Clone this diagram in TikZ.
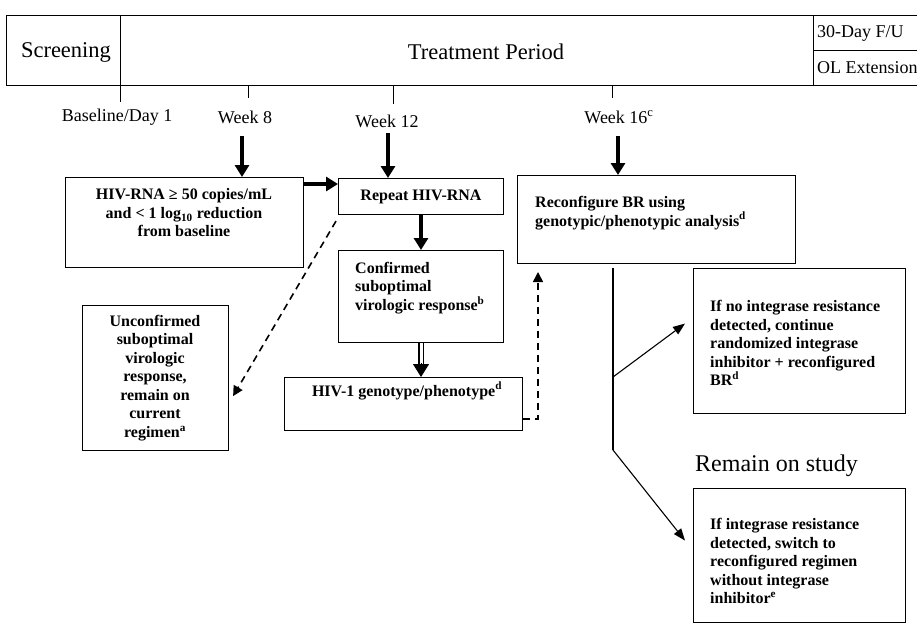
\documentclass[tikz,border=0pt]{standalone}
\usepackage{fontspec}
\setmainfont{Liberation Serif}
\usetikzlibrary{arrows.meta}
\begin{document}
\begin{tikzpicture}[x=1pt,y=-1pt,
  cell/.style={draw, line width=1.1pt, inner sep=0pt, anchor=north west},
  hdr/.style={font=\fontsize{22.5}{26}\selectfont, inner sep=0pt},
  hdrs/.style={font=\fontsize{18}{22}\selectfont, inner sep=0pt, anchor=west},
  wk/.style={font=\fontsize{18}{21}\selectfont, inner sep=0pt},
  btxt/.style={font=\fontsize{16}{18.5}\selectfont\bfseries, inner sep=0pt},
  tick/.style={line width=1pt},
  fat/.style={line width=3.5pt, -{Triangle[width=14pt,length=12pt]}},
  dblshaft/.style={double, double distance=3pt, line width=1.1pt, shorten >=11pt},
  dblhead/.style={line width=1pt, -{Triangle[width=16pt,length=13pt]}},
  dsh/.style={line width=1.6pt, dash pattern=on 7pt off 5pt, -{Triangle[width=10pt,length=10pt]}},
  thinarr/.style={line width=1.1pt, -{Triangle[width=9pt,length=12pt]}},
  plainline/.style={line width=1.1pt}
]
\useasboundingbox (0,0) rectangle (917,625);
\clip (0,0) rectangle (917,625);

% header cells
\node[cell, minimum width=114pt, minimum height=70pt] (scr) at (6,15) {};
\node[cell, minimum width=693pt, minimum height=70pt] (trt) at (120,15) {};
\node[cell, minimum width=110pt, minimum height=35pt] (fu) at (813,15) {};
\node[cell, minimum width=110pt, minimum height=35pt] (ol) at (813,50) {};
\node[hdr] (scrt) at (66,52) {Screening};
\node[hdr] (trtt) at (486,52) {Treatment Period};
\node[hdrs] (fut) at (817,33) {30-Day F/U};
\node[hdrs] (olt) at (817,68) {OL Extension};

% ticks
\coordinate (t0a) at (120,85); \coordinate (t0b) at (120,102);
\coordinate (t8a) at (248,85); \coordinate (t8b) at (248,98);
\coordinate (t12a) at (393,85); \coordinate (t12b) at (393,104);
\coordinate (t16a) at (612,85); \coordinate (t16b) at (612,98);
\draw[tick] (t0a) -- (t0b);
\draw[tick] (t8a) -- (t8b);
\draw[tick] (t12a) -- (t12b);
\draw[tick] (t16a) -- (t16b);

% time labels
\node[wk] (bl) at (117,117) {Baseline/Day 1};
\node[wk] (w8) at (245,117) {Week 8};
\node[wk] (w12) at (387,121) {Week 12};
\node[wk] (w16) at (619,117) {Week 16\textsuperscript{c}};

% boxes
\node[cell, minimum width=238pt, minimum height=90pt] (A) at (65,177) {};
\node[cell, minimum width=165pt, minimum height=36pt] (B) at (338,178) {};
\node[cell, minimum width=165pt, minimum height=92pt] (C) at (338,250) {};
\node[cell, minimum width=238pt, minimum height=53pt] (D) at (284,377) {};
\node[cell, minimum width=146pt, minimum height=145pt] (E) at (82,305) {};
\node[cell, minimum width=278pt, minimum height=88pt] (F) at (517,175) {};
\node[cell, minimum width=212pt, minimum height=145pt] (G) at (693,268) {};
\node[cell, minimum width=212pt, minimum height=134pt] (H) at (693,488) {};

% box texts
\node[btxt, align=center] (At) at (184,213) {HIV-RNA ≥ 50 copies/mL\\and < 1 log\textsubscript{10} reduction\\from baseline};
\node[btxt] (Bt) at (421,197) {Repeat HIV-RNA};
\node[btxt, align=left, anchor=west] (Ct) at (355,288) {Confirmed\\suboptimal\\virologic response\textsuperscript{b}};
\node[btxt] (Dt) at (407,391) {HIV-1 genotype/phenotype\textsuperscript{d}};
\node[btxt, align=center] (Et) at (155,378) {Unconfirmed\\suboptimal\\virologic\\response,\\remain on\\current\\regimen\textsuperscript{a}};
\node[btxt, align=left, anchor=west] (Ft) at (535,213) {Reconfigure BR using\\genotypic/phenotypic analysis\textsuperscript{d}};
\node[btxt, align=left, anchor=west] (Gt) at (710,343) {If no integrase resistance\\detected, continue\\randomized integrase\\inhibitor + reconfigured\\BR\textsuperscript{d}};
\node[btxt, align=left, anchor=west] (Ht) at (710,561) {If integrase resistance\\detected, switch to\\reconfigured regimen\\without integrase\\inhibitor\textsuperscript{e}};
\node[font=\fontsize{24}{28}\selectfont, inner sep=0pt, anchor=west] (rem) at (695,466) {Remain on study};

% week arrows
\coordinate (a8) at (242,136);
\coordinate (a12) at (388,133);
\coordinate (a16) at (618,136);
\draw[fat] (a8) -- (a8 |- A.north);
\draw[fat] (a12) -- (a12 |- B.north);
\draw[fat] (a16) -- (a16 |- F.north);

% flow arrows
\coordinate (ab) at ([yshift=-7pt]A.north east);
\draw[fat] (ab) -- (ab -| B.west);
\draw[fat] (B.south -| Bt.south) -- (C.north -| Bt.south);
\coordinate (cd1) at (C.south -| Bt.south);
\coordinate (cd2) at (D.north -| Bt.south);
\draw[dblshaft] (cd1) -- (cd2);
\draw[dblhead] ([yshift=14pt]cd2) -- (cd2);
\coordinate (be) at ([xshift=-2pt,yshift=-6pt]B.south west);
\coordinate (eb) at ([xshift=4pt,yshift=-18pt]E.east);
\draw[dsh] (be) -- (eb);
\coordinate (df) at ([yshift=12pt]D.south east);
\coordinate (fup) at (538,272);
\draw[dsh] (df) -| (fup);

% branching
\coordinate (ftop) at (613,268);
\coordinate (fbot) at (613,450);
\coordinate (fmid) at (613,377);
\draw[plainline] (ftop) -- (fbot);
\draw[thinarr] (fmid) -- ([xshift=-8pt,yshift=17.5pt]G.west);
\draw[thinarr] (fbot) -- ([xshift=-8pt,yshift=15pt]H.west);
\end{tikzpicture}
\end{document}
